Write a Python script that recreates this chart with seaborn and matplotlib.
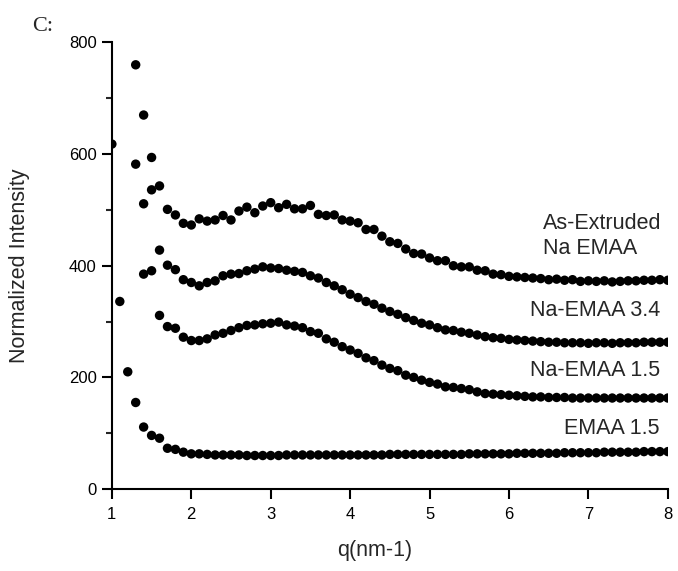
import numpy as np
import pandas as pd
import seaborn as sns
import matplotlib.pyplot as plt
from matplotlib.ticker import MultipleLocator

# q grid (nm-1)
q = [1.0, 1.1, 1.2, 1.3, 1.4, 1.5, 1.6, 1.7, 1.8, 1.9,
     2.0, 2.1, 2.2, 2.3, 2.4, 2.5, 2.6, 2.7, 2.8, 2.9,
     3.0, 3.1, 3.2, 3.3, 3.4, 3.5, 3.6, 3.7, 3.8, 3.9,
     4.0, 4.1, 4.2, 4.3, 4.4, 4.5, 4.6, 4.7, 4.8, 4.9,
     5.0, 5.1, 5.2, 5.3, 5.4, 5.5, 5.6, 5.7, 5.8, 5.9,
     6.0, 6.1, 6.2, 6.3, 6.4, 6.5, 6.6, 6.7, 6.8, 6.9,
     7.0, 7.1, 7.2, 7.3, 7.4, 7.5, 7.6, 7.7, 7.8, 7.9,
     8.0]

# EMAA 1.5, starts at q = 1.0
emaa_15 = [618, 336, 210, 155, 111, 96, 91, 73, 71, 66,
           63, 63, 62, 61, 61, 61, 61, 60, 60, 60,
           60, 60, 61, 61, 61, 61, 61, 61, 61, 61,
           61, 61, 61, 61, 61, 62, 62, 62, 62, 62,
           62, 62, 62, 62, 62, 63, 63, 63, 63, 63,
           63, 64, 64, 64, 64, 64, 64, 65, 65, 65,
           65, 65, 66, 66, 66, 66, 66, 67, 67, 67,
           67]

# Na-EMAA 1.5, starts at q = 1.3
na_emaa_15 = [582, 511, 536, 311, 291, 288, 272,
              266, 266, 269, 276, 279, 284, 289, 293, 294, 296,
              297, 299, 294, 292, 289, 282, 279, 269, 263, 255,
              249, 243, 235, 230, 222, 216, 212, 204, 200, 195,
              191, 188, 183, 182, 180, 178, 174, 171, 170, 169,
              168, 167, 166, 165, 165, 164, 164, 164, 163, 163,
              163, 163, 163, 163, 163, 163, 163, 163, 163, 163,
              163]

# Na-EMAA 3.4, starts at q = 1.4
na_emaa_34 = [385, 391, 428, 401, 393, 375,
              370, 364, 370, 373, 382, 385, 386, 391, 394, 398,
              396, 395, 392, 390, 388, 382, 378, 370, 364, 357,
              349, 343, 336, 331, 324, 318, 313, 307, 302, 297,
              294, 289, 285, 284, 281, 279, 276, 273, 271, 270,
              268, 267, 266, 265, 264, 263, 263, 262, 262, 262,
              261, 262, 262, 261, 262, 262, 262, 263, 263, 263,
              263]

# As-extruded Na EMAA, starts at q = 1.3
as_extruded = [760, 670, 594, 543, 501, 491, 476,
               473, 484, 480, 482, 490, 482, 498, 505, 495, 507,
               513, 504, 510, 502, 502, 508, 492, 490, 491, 482,
               480, 477, 465, 465, 453, 443, 440, 430, 422, 421,
               414, 409, 409, 400, 398, 398, 392, 391, 385, 384,
               381, 380, 379, 378, 377, 375, 376, 374, 375, 372,
               373, 372, 373, 371, 372, 373, 373, 374, 374, 375,
               374]

series = [("EMAA 1.5", 0, emaa_15),
          ("Na-EMAA 1.5", 3, na_emaa_15),
          ("Na-EMAA 3.4", 4, na_emaa_34),
          ("As-Extruded Na EMAA", 3, as_extruded)]

rows = []
for name, start, vals in series:
    for xv, yv in zip(q[start:start + len(vals)], vals):
        rows.append({"q": xv, "I": yv, "sample": name})
df = pd.DataFrame(rows)

sns.set_style("ticks")
plt.rcParams['font.family'] = ['Liberation Sans', 'DejaVu Sans']

fig = plt.figure(figsize=(6.78, 5.71), dpi=100)
ax = fig.add_axes([0.165, 0.1436, 0.82, 0.782])

sns.scatterplot(data=df, x="q", y="I", hue="sample",
                palette=["black"] * 4, s=46, linewidth=0,
                legend=False, ax=ax, clip_on=True, zorder=3)

ax.set_xlim(1, 8)
ax.set_ylim(0, 800)
ax.xaxis.set_major_locator(MultipleLocator(1))
ax.yaxis.set_major_locator(MultipleLocator(200))
ax.yaxis.set_minor_locator(MultipleLocator(100))

for s in ["top", "right"]:
    ax.spines[s].set_visible(False)
for s in ["left", "bottom"]:
    ax.spines[s].set_linewidth(1.5)
    ax.spines[s].set_color("black")

ax.tick_params(axis="both", which="major", direction="out", length=7,
               width=1.5, labelsize=12, colors="black")
ax.tick_params(axis="y", which="minor", direction="out", length=4, width=1.5)
ax.tick_params(axis="x", which="major", pad=6)
ax.tick_params(axis="y", which="major", pad=4)

ax.set_xlabel("q(nm-1)", fontsize=15.5)
ax.set_ylabel("Normalized Intensity", fontsize=15.5)
ax.xaxis.set_label_coords(0.473, -0.114)
ax.yaxis.set_label_coords(-0.148, 0.5)

# curve labels
ax.text(6.43, 453, "As-Extruded\nNa EMAA", ha="left", va="center",
        fontsize=15.5, linespacing=1.25)
ax.text(7.9, 319, "Na-EMAA 3.4", ha="right", va="center", fontsize=15.5)
ax.text(7.9, 213, "Na-EMAA 1.5", ha="right", va="center", fontsize=15.5)
ax.text(7.9, 109, "EMAA 1.5", ha="right", va="center", fontsize=15.5)

fig.text(0.047, 0.954, "C:", family=["Liberation Serif", "DejaVu Serif"],
         fontsize=16, ha="left", va="center")

fig.savefig("out.png", dpi=100)
